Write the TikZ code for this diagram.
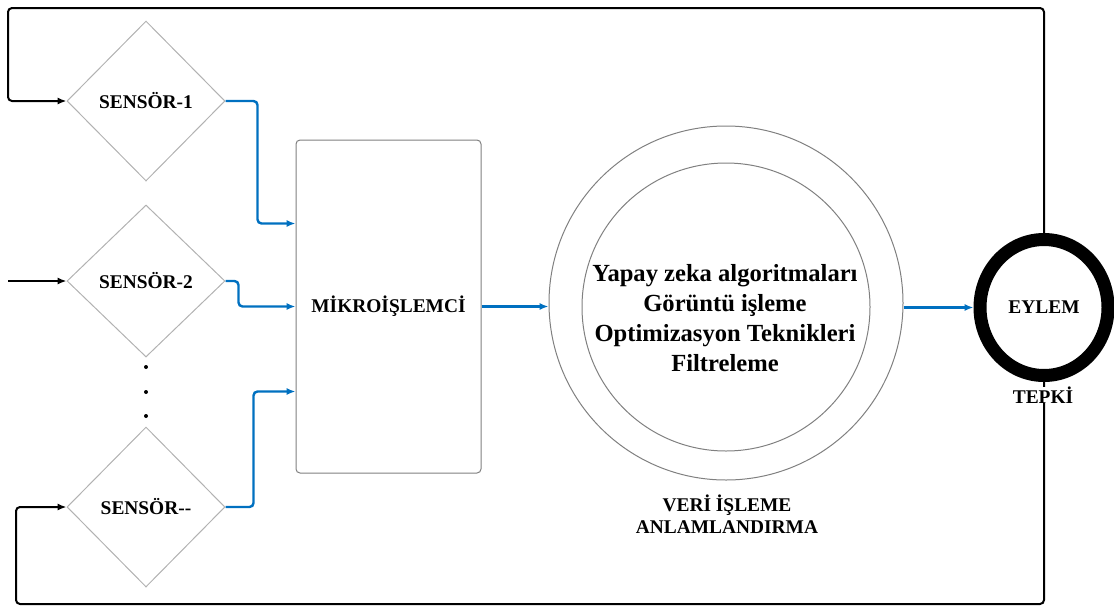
\documentclass[tikz,border=0pt]{standalone}
\usepackage{fontspec}
\setmainfont{Liberation Serif}
\usetikzlibrary{shapes.geometric,arrows.meta,calc}
\definecolor{sigblue}{RGB}{0,112,192}
\definecolor{lightgrey}{RGB}{178,178,178}
\definecolor{midgrey}{RGB}{128,128,128}
\tikzset{
  lbl/.style={font=\fontsize{9.7}{11}\selectfont\bfseries},
  sensor/.style={diamond,draw=lightgrey,line width=0.5pt,minimum width=79pt,
    minimum height=80pt,inner sep=0pt,lbl},
  dot/.style={circle,fill=black,inner sep=0pt,minimum size=2pt},
  mcu/.style={rectangle,draw=midgrey,line width=0.5pt,rounded corners=2pt,
    minimum width=92.5pt,minimum height=166.5pt,lbl},
  ring/.style={circle,draw=midgrey,line width=0.5pt,inner sep=0pt},
  sig/.style={draw=sigblue,line width=1.2pt,rounded corners=2pt,
    -{Latex[length=4.5pt,width=3.6pt]}},
  fb/.style={draw=black,line width=1pt,rounded corners=2pt,
    -{Latex[length=4.5pt,width=3.6pt]}},
}
\begin{document}
\begin{tikzpicture}[x=0.5pt,y=-0.5pt]
      \useasboundingbox (0,0) rectangle (1114,606);
      \path
        (146,101) node[sensor] (s1){SENSÖR-1}
        (146,281) node[sensor,minimum height=76pt] (s2){SENSÖR-2}
        (146,507) node[sensor] (s3){SENSÖR-{}-}
        (146,367) node[dot] (d1){}
        (146,392) node[dot] (d2){}
        (146,416) node[dot] (d3){}
        (388.5,306.5) node[mcu] (mcu){MİKROİŞLEMCİ}
        (726,303) node[ring,minimum size=177pt] (veri){}
        (726,307) node[ring,minimum size=144pt] (core){}
        (725,318) node[align=center,font=\fontsize{12.3}{15}\selectfont\bfseries] (algo)
          {Yapay zeka algoritmaları\\Görüntü işleme\\Optimizasyon Teknikleri\\Filtreleme}
        (727,514) node[align=center,font=\fontsize{9.7}{11}\selectfont\bfseries] (veril)
          {VERİ İŞLEME\\ANLAMLANDIRMA}
        (1044,307.5) node[ellipse,draw=black,line width=6.5pt,minimum width=64pt,
          minimum height=68pt,lbl] (eylem){EYLEM};
      \coordinate (tl) at (8,8);
      \coordinate (bl) at (16,604);
      \coordinate (in2) at (8,281);
      \begin{scope}
        \draw[fb] (eylem.north) |- (tl) |- (s1.west);
        \draw[fb] (eylem.south) |- (bl) |- (s3.west);
        \draw[fb] (in2) -- (s2.west);
        \draw[sig] (s1.east) -- ++(32,0) |- ($(mcu.west)+(0,-83)$);
        \draw[sig] (s2.east) -- ++(13,0) |- (mcu.west);
        \draw[sig] (s3.east) -- ++(28,0) |- ($(mcu.west)+(0,85)$);
        \draw[sig] (mcu.east) -- (mcu.east -| veri.west);
        \draw[sig] (veri.east |- eylem.west) -- (eylem.west);
      \end{scope}
      \path (1043,395) node[lbl,fill=white,inner sep=0pt] (tepki){TEPKİ};
    \end{tikzpicture}
\end{document}
